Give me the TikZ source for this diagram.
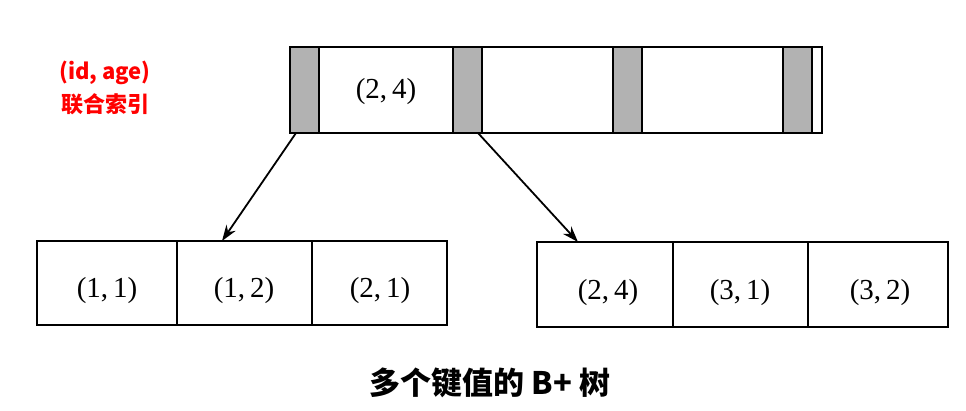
\documentclass[tikz,border=0pt]{standalone}
\usepackage{fontspec}
\setmainfont{Liberation Serif}
\newfontfamily\cjk{Noto Sans CJK SC}
\usetikzlibrary{arrows.meta}
\begin{document}
\begin{tikzpicture}[x=1pt,y=-1pt,
  box/.style={draw,line width=1.8pt},
  grey/.style={draw,line width=1.8pt,fill=black!30},
  lbl/.style={font=\fontsize{29}{29}\selectfont},
  arr/.style={-{Stealth[length=16pt,width=11pt]},line width=1.8pt}]
\useasboundingbox (0,0) rectangle (966,411);
% top node
\draw[box] (290,47) rectangle (822,133);
\draw[grey] (290,47) rectangle (319,133);
\draw[grey] (453,47) rectangle (482,133);
\draw[grey] (613,47) rectangle (642,133);
\draw[grey] (783,47) rectangle (812,133);
\node[lbl] (t1) at (386,92) {(2,\,4)};
\coordinate (tl) at (296,133);
\coordinate (tr) at (478,133);
% bottom left
\draw[box] (37,241) rectangle (447,325);
\draw[box] (177,241) -- (177,325);
\draw[box] (312,241) -- (312,325);
\node[lbl] (l1) at (107,291) {(1,\,1)};
\node[lbl] (l2) at (244,291) {(1,\,2)};
\node[lbl] (l3) at (380,291) {(2,\,1)};
\coordinate (la) at (222,241);
% bottom right
\draw[box] (537,242) rectangle (948,327);
\draw[box] (673,242) -- (673,327);
\draw[box] (808,242) -- (808,327);
\node[lbl] (r1) at (608,293) {(2,\,4)};
\node[lbl] (r2) at (740,293) {(3,\,1)};
\node[lbl] (r3) at (880,293) {(3,\,2)};
\coordinate (ra) at (578,242);
\draw[arr] (tl) -- (la);
\draw[arr] (tr) -- (ra);
% labels
\node[text=red,font=\cjk\bfseries\fontsize{22}{22}\selectfont] (n1) at (105,73) {(id, age)};
\node[text=red,font=\cjk\bfseries\fontsize{22}{22}\selectfont] (n2) at (105,104) {联合索引};
\node[font=\cjk\bfseries\fontsize{31}{31}\selectfont] (cap) at (490,383) {多个键值的 B+ 树};
\end{tikzpicture}
\end{document}
